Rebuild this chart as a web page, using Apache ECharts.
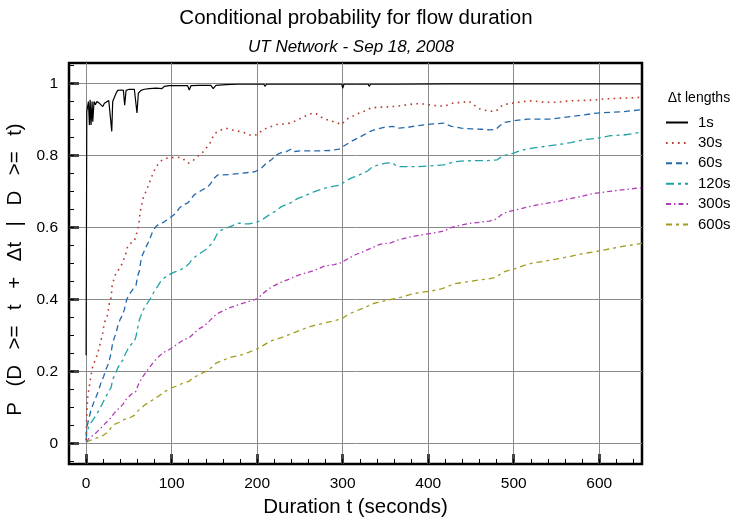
<!DOCTYPE html>
<html>
<head>
<meta charset="utf-8">
<script src="https://cdn.jsdelivr.net/npm/echarts@6/dist/echarts.min.js"></script>
<style>
  html, body { margin: 0; padding: 0; background: #fff; }
  #chart { width: 735px; height: 517px; }
</style>
</head>
<body>
<div id="chart"></div>
<script>
// Conditional probability P(D >= t + dt | D >= t) versus flow duration t,
// one curve per dt length. Points are [t seconds, probability].
const seriesNames = ['1s', '30s', '60s', '120s', '300s', '600s'];

const dur1s = [[0,0.245],[0.8,0.922],[1.9,0.922],[2.7,0.95],[3.9,0.885],[4.7,0.955],[5.8,0.885],[7,0.95],[7.8,0.894],[9.3,0.95],[10.9,0.941],[12.5,0.95],[15.6,0.945],[17.5,0.95],[19.5,0.936],[21.4,0.945],[23.3,0.947],[26.5,0.953],[28.4,0.95],[30,0.867],[31.1,0.95],[33.1,0.955],[35,0.973],[37,0.981],[40.9,0.982],[43.6,0.981],[45.1,0.94],[46.7,0.981],[50.6,0.984],[56.4,0.984],[58.4,0.982],[59.5,0.918],[61.1,0.973],[64.2,0.981],[68.1,0.984],[73.9,0.986],[81.7,0.987],[88.7,0.986],[91.4,0.992],[97.3,0.994],[109,0.994],[118.7,0.994],[120.6,0.982],[122.6,0.994],[132.3,0.995],[145.9,0.995],[148.6,0.986],[151.8,0.995],[163.4,0.997],[177,0.998],[179,0.993],[181,0.998],[208,0.998],[209,0.992],[211,0.998],[239,0.998],[240,0.993],[242,0.998],[268,0.998],[269,0.996],[270,0.998],[299,0.998],[300,0.987],[301.5,0.998],[330,0.998],[331,0.992],[332.5,0.998],[360,0.998],[361,0.996],[362,0.999],[424,0.999],[425,0.995],[426,0.999],[480,0.999],[481,0.994],[482,0.999],[510,0.999],[511,0.997],[512,0.999],[600,0.999],[601,0.997],[602,0.999],[650,0.999]];

const dur30s = [[0,0.01],[0.8,0.085],[1.9,0.13],[3.9,0.16],[5.8,0.19],[7.8,0.215],[10.9,0.233],[13.6,0.25],[16.7,0.28],[19.5,0.307],[20.6,0.326],[22.6,0.344],[25.3,0.358],[27.2,0.39],[29.2,0.405],[30.4,0.437],[32.3,0.455],[35,0.474],[38.1,0.483],[42.8,0.502],[44.7,0.516],[46.7,0.53],[48.6,0.548],[52.5,0.557],[56.4,0.562],[58.4,0.566],[60.3,0.594],[61.5,0.606],[63,0.64],[65.4,0.668],[67.3,0.686],[70,0.7],[73.2,0.719],[75.9,0.737],[78.6,0.751],[80.9,0.765],[83.7,0.774],[86.8,0.783],[89.5,0.788],[92.6,0.791],[97.3,0.795],[101.9,0.794],[107,0.795],[112.8,0.793],[116.7,0.783],[119.8,0.779],[123.7,0.783],[128.4,0.793],[132.3,0.802],[137.4,0.811],[140.1,0.82],[144,0.83],[146.7,0.844],[149.8,0.86],[155.6,0.869],[163.4,0.876],[171.2,0.871],[179,0.867],[186.8,0.862],[193.4,0.855],[200,0.858],[207,0.872],[214.7,0.879],[222.5,0.886],[230.2,0.887],[238,0.89],[243.8,0.895],[251.6,0.904],[259.3,0.913],[265.1,0.918],[269,0.916],[276.7,0.904],[284.5,0.897],[292.2,0.892],[298.8,0.886],[303.9,0.9],[311.6,0.909],[319.4,0.918],[325.2,0.923],[333,0.932],[340.7,0.934],[352.3,0.935],[364,0.937],[375.6,0.941],[385.3,0.944],[395,0.943],[406.6,0.939],[418.2,0.937],[423.3,0.941],[431,0.947],[438.8,0.947],[447.3,0.951],[452.3,0.943],[458.1,0.931],[467.8,0.925],[477.5,0.922],[481.4,0.927],[487.2,0.941],[496.9,0.945],[508.5,0.949],[520.2,0.952],[535.7,0.948],[551.2,0.948],[566.7,0.952],[582.2,0.953],[597.7,0.955],[605.4,0.957],[620.9,0.959],[636.4,0.96],[650,0.962]];

const dur60s = [[0,0.02],[1.2,0.048],[3.1,0.067],[5.8,0.094],[9.7,0.118],[13.6,0.141],[17.5,0.169],[20.6,0.187],[23.3,0.206],[26.5,0.224],[29.2,0.252],[31.1,0.28],[33.1,0.294],[35,0.307],[37,0.326],[39.7,0.344],[42.8,0.358],[44.7,0.372],[47.5,0.4],[50.6,0.414],[54.5,0.428],[58.4,0.44],[60.3,0.465],[62.3,0.48],[64.2,0.51],[66.1,0.525],[70,0.545],[73.9,0.565],[77.8,0.589],[81.7,0.603],[85.6,0.61],[90.3,0.614],[95.3,0.623],[100.4,0.631],[105.1,0.64],[109,0.654],[113.6,0.663],[118.7,0.668],[122.6,0.679],[126.5,0.691],[131.5,0.698],[136.2,0.705],[142,0.712],[145.9,0.723],[149.8,0.737],[153.7,0.746],[159.5,0.746],[167.3,0.747],[175.1,0.749],[182.9,0.751],[190.7,0.753],[197.3,0.755],[205,0.765],[210.9,0.779],[216.7,0.788],[222.5,0.802],[228.3,0.808],[234.1,0.811],[239.9,0.818],[243,0.811],[251.6,0.813],[263.2,0.813],[274.8,0.813],[286.4,0.814],[296.1,0.818],[301.9,0.827],[309.7,0.839],[317.4,0.848],[325.2,0.858],[332.2,0.867],[338.8,0.873],[348.4,0.878],[358.1,0.881],[365.9,0.876],[375.6,0.878],[387.2,0.883],[402.7,0.887],[418.2,0.89],[427.1,0.881],[438.8,0.876],[450.4,0.874],[462,0.873],[471.7,0.871],[479.5,0.873],[483.3,0.882],[489.1,0.892],[500.8,0.897],[516.3,0.901],[531.8,0.901],[543.4,0.901],[558.9,0.906],[582.2,0.913],[597.7,0.918],[613.2,0.92],[628.7,0.922],[648,0.927]];

const dur120s = [[0,0.006],[0.8,0.03],[3.1,0.048],[7,0.062],[10.9,0.076],[15.6,0.094],[19.5,0.113],[23.3,0.131],[26.5,0.145],[29.2,0.155],[31.1,0.178],[33.9,0.192],[37,0.21],[40.1,0.224],[43.6,0.233],[45.5,0.247],[46.7,0.252],[50.6,0.27],[56.4,0.284],[58.4,0.298],[60.3,0.321],[62.3,0.344],[65.4,0.363],[68.1,0.377],[72,0.391],[75.9,0.405],[79.8,0.423],[83.7,0.437],[87.5,0.451],[91.4,0.46],[97.3,0.469],[103.1,0.476],[109,0.481],[114.8,0.488],[120.6,0.5],[123.7,0.511],[128.4,0.52],[134.2,0.53],[140.1,0.539],[145.9,0.553],[149.8,0.566],[153.7,0.584],[157.6,0.592],[163.4,0.598],[169.3,0.603],[175.1,0.61],[179,0.612],[184.8,0.61],[190.7,0.61],[197.3,0.613],[205,0.62],[212.8,0.633],[220.5,0.644],[228.3,0.658],[238,0.667],[247.7,0.681],[257.4,0.69],[267.1,0.7],[278.7,0.709],[290.3,0.715],[298.1,0.718],[301.9,0.727],[309.7,0.737],[319.4,0.746],[329.1,0.757],[334.9,0.769],[342.6,0.774],[350.4,0.779],[358.1,0.78],[364,0.769],[371.7,0.769],[387.2,0.769],[402.7,0.771],[418.2,0.774],[431,0.783],[442.6,0.785],[458.1,0.786],[469.8,0.786],[480.6,0.788],[487.2,0.799],[498.8,0.806],[508.5,0.814],[520.2,0.82],[535.7,0.825],[551.2,0.83],[566.7,0.836],[582.2,0.844],[597.7,0.848],[613.2,0.855],[628.7,0.857],[650,0.865]];

const dur300s = [[0,0.004],[3.9,0.016],[9.7,0.025],[15.6,0.039],[21.4,0.053],[27.2,0.067],[33.1,0.085],[38.9,0.099],[42.8,0.108],[46.7,0.122],[52.5,0.136],[58.4,0.145],[60.3,0.159],[63,0.173],[68.1,0.192],[73.9,0.21],[79.8,0.229],[85.6,0.243],[91.4,0.254],[97.3,0.261],[103.1,0.27],[109,0.28],[114.8,0.289],[120.6,0.294],[126.5,0.307],[132.3,0.319],[138.1,0.326],[144,0.34],[149.8,0.354],[153.7,0.361],[159.5,0.368],[167.3,0.377],[175.1,0.383],[182.9,0.389],[190.7,0.395],[200,0.402],[207,0.417],[212.8,0.428],[218.6,0.437],[228.3,0.448],[238,0.457],[247.7,0.467],[257.4,0.474],[267.1,0.481],[278.7,0.493],[290.3,0.497],[298.1,0.502],[305.8,0.513],[315.5,0.525],[325.2,0.534],[336.8,0.546],[344.6,0.554],[356.2,0.557],[364,0.565],[379.5,0.574],[395,0.581],[406.6,0.585],[418.2,0.59],[427.1,0.6],[438.8,0.607],[450.4,0.612],[462,0.615],[471.7,0.618],[479.5,0.623],[485.3,0.635],[493,0.644],[502.7,0.649],[514.3,0.656],[527.9,0.663],[539.5,0.668],[551.2,0.672],[562.8,0.679],[578.3,0.686],[589.9,0.693],[601.6,0.697],[617.1,0.702],[632.6,0.706],[650,0.711]];

const dur600s = [[0,0.004],[3.9,0.008],[9.7,0.013],[13.6,0.016],[17.5,0.019],[21.4,0.025],[25.3,0.031],[29.2,0.044],[33.1,0.053],[38.9,0.059],[44.7,0.067],[50.6,0.071],[56.4,0.078],[59.1,0.087],[62.3,0.094],[68.1,0.106],[73.9,0.115],[79.8,0.124],[85.6,0.133],[91.4,0.143],[97.3,0.152],[105.1,0.159],[112.8,0.167],[120.6,0.173],[124.5,0.182],[130.4,0.189],[136.2,0.196],[142,0.202],[147.9,0.214],[151.8,0.223],[159.5,0.231],[167.3,0.238],[175.1,0.243],[182.9,0.247],[190.7,0.254],[203.1,0.266],[210.9,0.278],[218.6,0.287],[228.3,0.294],[238,0.303],[247.7,0.312],[257.4,0.321],[267.1,0.328],[278.7,0.335],[290.3,0.341],[298.8,0.346],[305.8,0.358],[315.5,0.368],[325.2,0.377],[334.9,0.388],[344.6,0.394],[356.2,0.4],[367.8,0.406],[379.5,0.414],[391.1,0.42],[402.7,0.423],[416.3,0.43],[431,0.444],[442.6,0.448],[458.1,0.454],[469.8,0.457],[479.5,0.462],[487.2,0.476],[500.8,0.485],[512.4,0.495],[524,0.502],[535.7,0.506],[551.2,0.513],[566.7,0.52],[582.2,0.528],[597.7,0.534],[613.2,0.541],[628.7,0.548],[650,0.556]];

// Tick positions
const xMajorTicks = [0, 100, 200, 300, 400, 500, 600];
const xMinorTicks = [-20, 0, 20, 40, 60, 80, 100, 120, 140, 160, 180, 200, 220, 240, 260, 280, 300, 320, 340, 360, 380, 400, 420, 440, 460, 480, 500, 520, 540, 560, 580, 600, 620, 640];
const yMajorTicks = [0, 0.2, 0.4, 0.6, 0.8, 1];
const yMinorTicks = [-0.05, 0, 0.05, 0.1, 0.15, 0.2, 0.25, 0.3, 0.35, 0.4, 0.45, 0.5, 0.55, 0.6, 0.65, 0.7, 0.75, 0.8, 0.85, 0.9, 0.95, 1, 1.05];

const FONT = '"Liberation Sans", Arial, Helvetica, sans-serif';

// Wide word gap used in the y-axis title
const GAP = '  \u2009';
const yTitle = ['P', '(D', '>=', 't', '+', '\u0394t', '|', 'D', '>=', 't)'].join(GAP);

const lineLooks = [
  { color: '#000000', width: 1.2, type: 'solid' },
  { color: '#b8392c', width: 1.6, type: [1.6, 4.4] },
  { color: '#2468ad', width: 1.3, type: [6, 4] },
  { color: '#1ea3a6', width: 1.3, type: [8, 4, 3, 4] },
  { color: '#b03cb6', width: 1.3, type: [5, 3, 1.5, 3] },
  { color: '#a39c1c', width: 1.3, type: [6, 4, 3, 4] }
];
const allData = [dur1s, dur30s, dur60s, dur120s, dur300s, dur600s];

const chart = echarts.init(document.getElementById('chart'), null, { renderer: 'canvas' });

const xRange = { min: -20, max: 650 };
const yRange = { min: -0.057, max: 1.057 };

const hiddenLine = { show: false, onZero: false };

chart.setOption({
  animation: false,
  backgroundColor: '#ffffff',
  textStyle: { fontFamily: FONT },
  grid: {
    left: 69, right: 93, top: 63, bottom: 53,
    outerBoundsMode: 'none',
    containLabel: false,
    show: true, borderColor: '#000', borderWidth: 2.5, backgroundColor: 'transparent'
  },
  graphic: [
    { type: 'text', x: 356, y: 18, style: { text: 'Conditional probability for flow duration', fontSize: 20.5, fontFamily: FONT, fill: '#000', textAlign: 'center', textVerticalAlign: 'middle' } },
    { type: 'text', x: 351, y: 47, style: { text: 'UT Network - Sep 18, 2008', fontSize: 17, fontStyle: 'italic', fontFamily: FONT, fill: '#000', textAlign: 'center', textVerticalAlign: 'middle' } },
    { type: 'text', x: 699, y: 98, style: { text: '\u0394t lengths', fontSize: 14, fontFamily: FONT, fill: '#000', textAlign: 'center', textVerticalAlign: 'middle' } }
  ],
  legend: {
    data: seriesNames,
    orient: 'vertical',
    left: 665, top: 115,
    itemWidth: 22, itemHeight: 14, itemGap: 5.4,
    padding: 0,
    itemStyle: { color: 'transparent', borderColor: 'transparent', borderWidth: 0, opacity: 0 },
    textStyle: { fontSize: 15, color: '#000', fontFamily: FONT, padding: [0, 0, 0, 5] }
  },
  xAxis: [
    {
      type: 'value', min: xRange.min, max: xRange.max, position: 'bottom',
      name: 'Duration t (seconds)', nameLocation: 'middle', nameGap: 32,
      nameTextStyle: { fontSize: 20.5, color: '#000', fontFamily: FONT },
      axisLine: hiddenLine,
      axisTick: { show: true, inside: true, length: 10, lineStyle: { color: '#444', width: 3 }, customValues: xMajorTicks },
      axisLabel: { customValues: xMajorTicks, fontSize: 15.5, color: '#000', margin: 12, fontFamily: FONT },
      splitLine: { show: true, lineStyle: { color: '#8a8a8a', width: 1 } }
    },
    {
      type: 'value', min: xRange.min, max: xRange.max, position: 'bottom',
      axisLine: hiddenLine,
      axisTick: { show: true, inside: true, length: 5, lineStyle: { color: '#000', width: 1 }, customValues: xMinorTicks },
      axisLabel: { show: false },
      splitLine: { show: false }
    }
  ],
  yAxis: [
    {
      type: 'value', min: yRange.min, max: yRange.max, position: 'left',
      name: yTitle, nameLocation: 'middle', nameGap: 38,
      nameTextStyle: { fontSize: 20.5, color: '#000', fontFamily: FONT, padding: [0, 12, 0, 0] },
      axisLine: hiddenLine,
      axisTick: { show: true, inside: true, length: 10, lineStyle: { color: '#444', width: 3 }, customValues: yMajorTicks },
      axisLabel: { customValues: yMajorTicks, fontSize: 15.5, color: '#000', margin: 11, fontFamily: FONT },
      splitLine: { show: true, lineStyle: { color: '#8a8a8a', width: 1 } }
    },
    {
      type: 'value', min: yRange.min, max: yRange.max, position: 'left',
      axisLine: hiddenLine,
      axisTick: { show: true, inside: true, length: 5, lineStyle: { color: '#000', width: 1 }, customValues: yMinorTicks },
      axisLabel: { show: false },
      splitLine: { show: false }
    }
  ],
  series: seriesNames.map((name, i) => ({
    name: name,
    type: 'line',
    xAxisIndex: 0,
    yAxisIndex: 0,
    data: allData[i],
    symbol: 'none',
    smooth: false,
    clip: true,
    z: 10 - i,
    lineStyle: { color: lineLooks[i].color, width: lineLooks[i].width, type: lineLooks[i].type, cap: 'butt' },
    itemStyle: { color: lineLooks[i].color }
  }))
});
</script>
</body>
</html>
